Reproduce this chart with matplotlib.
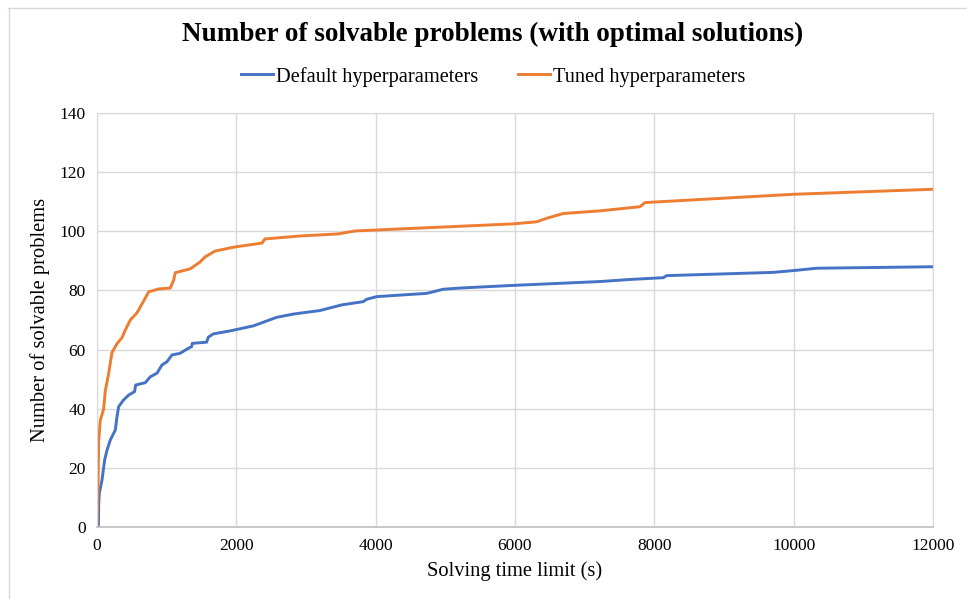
import matplotlib.pyplot as plt
from matplotlib.lines import Line2D

plt.rcParams['font.family'] = ['Liberation Serif', 'DejaVu Serif']

# (seconds, number of problems)
default_t = [0, 20, 25, 33, 72, 110, 144, 191, 263, 287, 311, 383, 455, 540, 555,
             693, 765, 861, 933, 1005, 1077, 1191, 1287, 1359, 1368, 1574, 1598,
             1670, 1909, 2244, 2579, 2818, 3201, 3512, 3823, 3871, 4015, 4733,
             4971, 5211, 5976, 7220, 7651, 8129, 8177, 9708, 9995, 10330, 12000]
default_n = [0, 0, 8, 11.4, 15.9, 22.7, 26, 29.4, 32.8, 37.3, 40.7, 43, 44.6, 45.8, 48,
             48.8, 50.8, 52, 54.8, 55.9, 58.2, 58.7, 60.1, 61, 62.1, 62.5, 64.2,
             65.3, 66.3, 68, 70.9, 72, 73.2, 75.1, 76.2, 77, 77.9, 79,
             80.4, 80.8, 81.7, 83, 83.7, 84.3, 85, 86.1, 86.7, 87.5, 88]

tuned_t = [0, 15, 24, 47, 96, 119, 168, 215, 240, 287, 359, 406, 478, 574, 622,
           693, 741, 886, 1052, 1101, 1124, 1339, 1478, 1550, 1694, 1981, 2368,
           2411, 2914, 3464, 3703, 5976, 6311, 6455, 6693, 7220, 7794, 7866,
           9995, 12000]
tuned_n = [0, 14, 29, 36, 40, 46, 52, 59, 60, 62, 64, 66.6, 70, 72.4, 74.4,
           77.4, 79.5, 80.5, 80.8, 83.5, 86, 87.3, 89.6, 91.3, 93.3, 94.7, 96,
           97.4, 98.4, 99.1, 100.1, 102.5, 103.2, 104.4, 106, 106.9, 108.3, 109.7,
           112.5, 114.2]

series_names = ['Default hyperparameters', 'Tuned hyperparameters']
colors = ['#4472c4', '#ed7d31']

fig = plt.figure(figsize=(9.67, 5.99), dpi=100)
ax = fig.add_axes([0.1003, 0.1202, 0.8645, 0.6912])

ax.plot(default_t, default_n, color=colors[0], lw=2.1, solid_joinstyle='round')
ax.plot(tuned_t, tuned_n, color=colors[1], lw=2.1, solid_joinstyle='round')

ax.set_xlim(0, 12000)
ax.set_ylim(0, 140)
ax.set_xticks(range(0, 12001, 2000))
ax.set_yticks(range(0, 141, 20))
ax.grid(True, color='#d9d9d9', lw=1)
ax.set_axisbelow(True)
for side in ['top', 'right', 'left']:
    ax.spines[side].set_color('#d9d9d9')
ax.spines['bottom'].set_color('#bfbfbf')
ax.spines['bottom'].set_linewidth(1.2)
ax.tick_params(length=0, labelsize=12.5, colors='black', pad=8)

ax.set_xlabel('Solving time limit (s)', fontsize=14.8, labelpad=5)
ax.set_ylabel('Number of solvable problems', fontsize=14.8, labelpad=7)

fig.text(0.509, 0.942, 'Number of solvable problems (with optimal solutions)',
         ha='center', va='center', fontsize=19.5, fontweight='bold')

handles = [Line2D([], [], color=c, lw=2.1) for c in colors]
fig.legend(handles, series_names, loc='center', bbox_to_anchor=(0.51, 0.872),
           ncol=2, frameon=False, fontsize=14.7, handlelength=1.6,
           handletextpad=0.15, columnspacing=1.9)

# light frame of the chart area
fig.add_artist(Line2D([8 / 967, 1], [1 - 7.5 / 599, 1 - 7.5 / 599],
                      color='#d9d9d9', lw=1, transform=fig.transFigure))
fig.add_artist(Line2D([8.5 / 967, 8.5 / 967], [0, 1 - 7.5 / 599],
                      color='#d9d9d9', lw=1, transform=fig.transFigure))

fig.savefig('out.png', dpi=100)
